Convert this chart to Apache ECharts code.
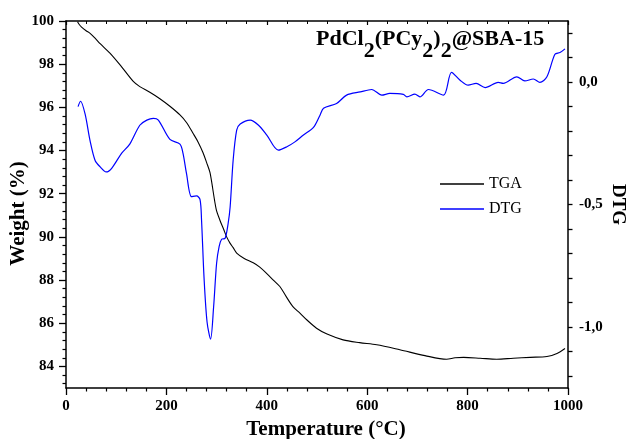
<!DOCTYPE html>
<html>
<head>
<meta charset="utf-8">
<script src="https://cdn.jsdelivr.net/npm/echarts@6/dist/echarts.min.js"></script>
<style>html,body{margin:0;padding:0;background:#fff}#c{width:628px;height:439px}</style>
</head>
<body>
<div id="c"></div>
<script>
// TGA (weight %, left axis)
var tgaT = [23,26,31,40,48,60,68,88,110,134,147,167,187,207,227,240,253,263,273,280,287,299,307,314,320,327,333,340,355,373,386,400,413,426,439,452,466,480,499,520,552,585,619,665,715,758,775,792,825,858,891,925,958,978,994];
var tgaW = [99.97,99.85,99.72,99.55,99.43,99.15,98.95,98.5,97.9,97.2,96.96,96.7,96.4,96.05,95.65,95.3,94.8,94.4,93.9,93.45,92.96,91.3,90.75,90.35,90.0,89.7,89.5,89.25,89.0,88.8,88.6,88.3,88.0,87.7,87.22,86.77,86.47,86.15,85.77,85.5,85.23,85.1,85.0,84.77,84.5,84.33,84.4,84.42,84.38,84.33,84.38,84.42,84.46,84.6,84.83];
// DTG (right axis)
var dtgT = [24,29,38,48,58,68,80,91,111,127,147,161,174,184,207,227,233,240,250,260,267,270,275,281,288,294,300,305,310,317,323,327,333,340,347,367,383,400,423,440,456,473,493,506,513,539,559,586,609,629,645,672,679,695,705,722,752,768,785,801,817,835,861,871,898,914,931,944,958,974,984,994];
var dtgV = [-0.10,-0.078,-0.13,-0.24,-0.32,-0.346,-0.367,-0.352,-0.29,-0.253,-0.176,-0.155,-0.148,-0.155,-0.234,-0.253,-0.29,-0.373,-0.468,-0.465,-0.48,-0.563,-0.80,-0.98,-1.05,-0.92,-0.74,-0.672,-0.642,-0.638,-0.577,-0.509,-0.318,-0.196,-0.171,-0.155,-0.175,-0.216,-0.278,-0.264,-0.244,-0.216,-0.185,-0.135,-0.107,-0.087,-0.053,-0.04,-0.03,-0.053,-0.046,-0.05,-0.06,-0.049,-0.06,-0.03,-0.053,0.04,0.008,-0.012,-0.005,-0.022,-0.001,-0.005,0.022,0.005,0.013,-0.001,0.022,0.114,0.121,0.136];
var xTicks = [0,200,400,600,800,1000];
var weightLabels = [84,86,88,90,92,94,96,98,100];
var dtgLabels = [0,-0.5,-1.0];

function zip(a,b){var r=[];for(var i=0;i<a.length;i++)r.push([a[i],b[i]]);return r;}
var weightMinor = [];
for (var i=0;i<weightLabels.length-1;i++){for(var k=1;k<5;k++)weightMinor.push(weightLabels[i]+k*0.4);}
weightMinor.push(83.2,83.6);
var dtgTicks = [];
for (var j=-12;j<=2;j++) dtgTicks.push(j/10);

var FONT = 'Liberation Serif';
var chart = echarts.init(document.getElementById('c'));
chart.setOption({
  animation:false,
  backgroundColor:'#fff',
  textStyle:{fontFamily:FONT},
  title:{
    left:316, top:28, padding:0,
    text:'{a|PdCl}{s|2}{a|(PCy}{s|2}{a|)}{s|2}{a|@SBA-15}',
    textStyle:{rich:{
      a:{fontFamily:FONT,fontWeight:'bold',fontSize:22,color:'#000',lineHeight:20,verticalAlign:'top'},
      s:{fontFamily:FONT,fontWeight:'bold',fontSize:22,color:'#000',lineHeight:34,verticalAlign:'bottom'}
    }}
  },
  legend:{
    orient:'vertical', left:440, top:175, padding:0, itemWidth:44, itemHeight:1.3, itemGap:7,
    icon:'rect',
    textStyle:{fontFamily:FONT,fontSize:16,color:'#000',lineHeight:18},
    data:['TGA','DTG']
  },
  grid:{left:66,right:60,top:21,bottom:51,outerBoundsMode:'none',containLabel:false},
  xAxis:[{
    type:'value', min:0, max:1000, interval:200, position:'bottom',
    axisLine:{onZero:false,lineStyle:{color:'#000',width:1.5}},
    axisTick:{inside:false,length:7,lineStyle:{color:'#000',width:1.3}},
    minorTick:{show:true,splitNumber:5,length:3.5,lineStyle:{color:'#000',width:1.2}},
    splitLine:{show:false},
    axisLabel:{margin:11,fontFamily:FONT,fontWeight:'bold',fontSize:15,color:'#000',
      customValues:xTicks, formatter:function(v){return String(v);}},
    name:'Temperature (°C)', nameLocation:'middle', nameGap:31, nameMoveOverlap:false,
    nameTextStyle:{fontFamily:FONT,fontWeight:'bold',fontSize:21,color:'#000',padding:[0,0,0,18]}
  },{
    type:'value', min:0, max:1000, interval:200, position:'top',
    axisLine:{onZero:false,lineStyle:{color:'#000',width:1.5}},
    axisTick:{inside:true,length:4,lineStyle:{color:'#000',width:1.2}},
    minorTick:{show:true,splitNumber:5,length:3,lineStyle:{color:'#000',width:1}},
    splitLine:{show:false}, axisLabel:{show:false}
  }],
  yAxis:[{
    type:'value', min:83, max:100, position:'left',
    axisLine:{show:true,onZero:false,lineStyle:{color:'#000',width:1.5}},
    axisTick:{show:true,inside:false,length:7,customValues:weightLabels,lineStyle:{color:'#000',width:1.3}},
    axisLabel:{margin:12,fontFamily:FONT,fontWeight:'bold',fontSize:15,color:'#000',customValues:weightLabels},
    splitLine:{show:false},
    name:'Weight (%)', nameLocation:'middle', nameGap:37, nameRotate:90, nameMoveOverlap:false,
    nameTextStyle:{fontFamily:FONT,fontWeight:'bold',fontSize:21,color:'#000',padding:[0,18,0,0]}
  },{
    type:'value', min:83, max:100, position:'left',
    axisLine:{show:false,onZero:false},
    axisTick:{show:true,inside:false,length:3.5,customValues:weightMinor,lineStyle:{color:'#000',width:1.2}},
    axisLabel:{show:false}, splitLine:{show:false}
  },{
    type:'value', min:-1.25, max:0.25, position:'right',
    axisLine:{show:true,onZero:false,lineStyle:{color:'#000',width:1.5}},
    axisTick:{show:true,inside:false,length:4.5,customValues:dtgTicks,lineStyle:{color:'#000',width:1.3}},
    axisLabel:{margin:11,fontFamily:FONT,fontWeight:'bold',fontSize:15,color:'#000',customValues:dtgLabels,
      formatter:function(v){return v.toFixed(1).replace('.',',');}},
    splitLine:{show:false},
    name:'DTG', nameLocation:'middle', nameGap:40, nameRotate:-90, nameMoveOverlap:false,
    nameTextStyle:{fontFamily:FONT,fontWeight:'bold',fontSize:19,color:'#000'}
  }],
  series:[{
    name:'TGA', type:'line', xAxisIndex:0, yAxisIndex:0, data:zip(tgaT,tgaW),
    symbol:'none', smooth:0.3, lineStyle:{color:'#000',width:1.1}, itemStyle:{color:'#000'}
  },{
    name:'DTG', type:'line', xAxisIndex:0, yAxisIndex:2, data:zip(dtgT,dtgV),
    symbol:'none', smooth:0.3, lineStyle:{color:'#0000ff',width:1.2}, itemStyle:{color:'#0000ff'}
  }]
});
</script>
</body>
</html>
